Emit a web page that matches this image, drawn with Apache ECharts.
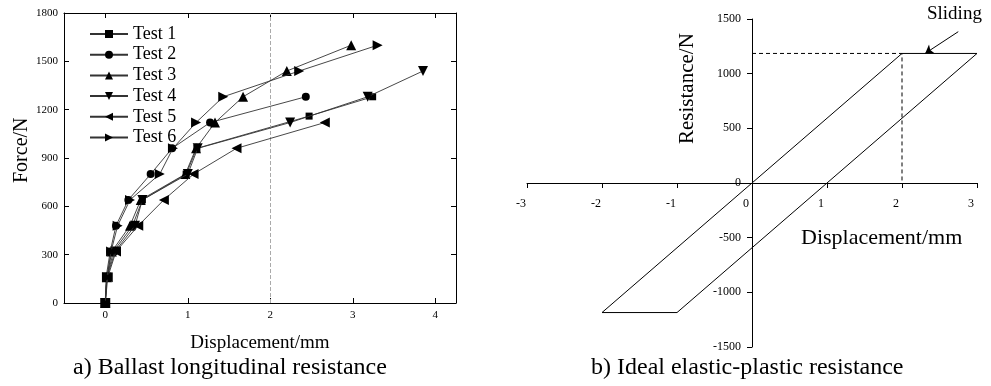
<!DOCTYPE html>
<html><head><meta charset="utf-8">
<script src="https://cdn.jsdelivr.net/npm/echarts@6/dist/echarts.min.js"></script>
<style>html,body{margin:0;padding:0;background:#fff}#c{width:991px;height:386px}</style>
</head><body><div id="c"></div>
<script>
// ---- Panel a) data ----
const testNames = ['Test 1','Test 2','Test 3','Test 4','Test 5','Test 6'];
const force1 = [0,160,320,480,640,800,960,1160,1280];
const disp1  = [0,0.02,0.10,0.33,0.45,0.98,1.11,2.47,3.24];
const force2 = [0,160,320,480,640,800,960,1120,1280];
const disp2  = [0,0.01,0.06,0.13,0.28,0.55,0.81,1.27,2.43];
const force3 = [0,160,320,480,640,800,960,1120,1280,1440,1600];
const disp3  = [0,0.02,0.08,0.30,0.43,0.97,1.10,1.33,1.67,2.20,2.98];
const force4 = [0,160,320,480,640,800,960,1120,1280,1440];
const disp4  = [0,0.02,0.12,0.36,0.45,1.00,1.12,2.24,3.18,3.85];
const force5 = [0,160,320,480,640,800,960,1120];
const disp5  = [0,0.03,0.13,0.40,0.71,1.07,1.59,2.66];
const force6 = [0,160,320,480,640,800,960,1120,1280,1440,1600];
const disp6  = [0,0.02,0.07,0.15,0.30,0.66,0.82,1.10,1.43,2.35,3.30];
const leftXTicks = [0,1,2,3,4];
const refDisp = 2;

// ---- Panel b) data ----
const loopDisp  = [-2, 2, 3, -1, -2];
const loopForce = [-1185, 1185, 1185, -1185, -1185];
const guideDisp  = [0, 2, 2];
const guideForce = [1185, 1185, 0];
const arrowFrom = [2.75, 1384];
const arrowTo   = [2.31, 1186];

const F = 'Liberation Serif';
const forces = [force1, force2, force3, force4, force5, force6];
const disps = [disp1, disp2, disp3, disp4, disp5, disp6];
const symbols = ['rect','circle','triangle',
  'path://M0,0L10,0L5,10Z','path://M10,0L10,10L0,5Z','path://M0,0L0,10L10,5Z'];
const sizes = [7, 8, 10, 10, 10, 10];
const pair = (xs, ys) => xs.map((x, i) => [x, ys[i]]);
const plain = v => String(v);

const testSeries = testNames.map((n, k) => ({
  name: n, type: 'line', xAxisIndex: 0, yAxisIndex: 0,
  data: pair(disps[k], forces[k]),
  symbol: symbols[k], symbolSize: sizes[k], showAllSymbol: true,
  lineStyle: {color: '#333', width: 0.9}, itemStyle: {color: '#000'},
  z: 3 + k,
  markLine: k === 0 ? {silent: true, symbol: 'none', label: {show: false},
    lineStyle: {color: '#aaa', type: 'dashed', width: 1}, data: [{xAxis: refDisp}]} : undefined
}));

const axisBlack = {onZero: false, lineStyle: {color: '#000', width: 1}};
const opt = {
  animation: false,
  textStyle: {fontFamily: F},
  grid: [
    {left: 64, right: 535, top: 13, bottom: 83},
    {left: 527, right: 14, top: 19, bottom: 39}
  ],
  xAxis: [
    {gridIndex: 0, type: 'value', min: -0.5, max: 4.25, position: 'bottom',
     axisLine: axisBlack, splitLine: {show: false},
     axisTick: {inside: true, length: 5, customValues: leftXTicks, lineStyle: {color: '#000'}},
     axisLabel: {customValues: leftXTicks, color: '#000', fontSize: 11, margin: 7, fontFamily: F, formatter: plain},
     name: 'Displacement/mm', nameLocation: 'middle', nameGap: 31,
     nameTextStyle: {fontSize: 19, color: '#000', fontFamily: F}},
    {gridIndex: 0, type: 'value', min: -0.5, max: 4.25, position: 'top',
     axisLine: axisBlack, splitLine: {show: false},
     axisTick: {inside: true, length: 5, customValues: leftXTicks, lineStyle: {color: '#000'}},
     axisLabel: {show: false}},
    {gridIndex: 1, type: 'value', min: -3, max: 3, interval: 1, position: 'bottom', offset: -164,
     axisLine: {onZero: false, lineStyle: {color: '#000', width: 1}}, splitLine: {show: false},
     axisTick: {length: 5, lineStyle: {color: '#000'}},
     axisLabel: {color: '#000', fontSize: 12, margin: 15, fontFamily: F, padding: [0, 12, 0, 0], formatter: plain}}
  ],
  yAxis: [
    {gridIndex: 0, type: 'value', min: 0, max: 1800, interval: 300,
     axisLine: {show: true, onZero: false, lineStyle: {color: '#000', width: 1}}, splitLine: {show: false},
     axisTick: {show: true, inside: true, length: 5, lineStyle: {color: '#000'}},
     axisLabel: {color: '#000', fontSize: 11, margin: 6, fontFamily: F, formatter: plain}},
    {gridIndex: 0, type: 'value', min: 0, max: 1800, interval: 300, position: 'right',
     axisLine: {show: true, onZero: false, lineStyle: {color: '#000', width: 1}}, splitLine: {show: false},
     axisTick: {show: true, inside: true, length: 5, lineStyle: {color: '#000'}},
     axisLabel: {show: false}},
    {gridIndex: 1, type: 'value', min: -1500, max: 1500, interval: 500, position: 'left', offset: -225,
     axisLine: {show: true, onZero: false, lineStyle: {color: '#000', width: 1}}, splitLine: {show: false},
     axisTick: {show: true, length: 5, lineStyle: {color: '#000'}},
     axisLabel: {color: '#000', fontSize: 12, margin: 11, fontFamily: F, formatter: plain}}
  ],
  legend: {
    orient: 'vertical', left: 84, top: 20, itemWidth: 38, itemHeight: 10, itemGap: 2.7,
    textStyle: {fontSize: 18, color: '#000', fontFamily: F},
    data: testNames
  },
  series: [
    ...testSeries,
    {type: 'line', xAxisIndex: 2, yAxisIndex: 2, data: pair(loopDisp, loopForce),
     symbol: 'none', lineStyle: {color: '#000', width: 1}, z: 5},
    {type: 'line', xAxisIndex: 2, yAxisIndex: 2, data: pair(guideDisp, guideForce),
     symbol: 'none', lineStyle: {color: '#000', width: 1, type: [4, 3]}, z: 4,
     markLine: {silent: true, symbol: ['none', 'arrow'], symbolSize: 8, label: {show: false},
       lineStyle: {color: '#000', width: 1, type: 'solid'},
       data: [[{coord: arrowFrom}, {coord: arrowTo}]]}}
  ],
  graphic: [
    {type: 'text', x: 12, y: 183, rotation: Math.PI / 2,
     style: {text: 'Force/N', font: '20px "Liberation Serif"', fill: '#000'}},
    {type: 'text', left: 927, top: 5, style: {text: 'Sliding', font: '19px "Liberation Serif"', fill: '#000'}},
    {type: 'text', x: 677, y: 144, rotation: Math.PI / 2,
     style: {text: 'Resistance/N', font: '21px "Liberation Serif"', fill: '#000'}},
    {type: 'text', left: 801, top: 227, style: {text: 'Displacement/mm', font: '22px "Liberation Serif"', fill: '#000'}},
    {type: 'text', left: 73, top: 356, style: {text: 'a) Ballast longitudinal resistance', font: '24px "Liberation Serif"', fill: '#000'}},
    {type: 'text', left: 591, top: 356, style: {text: 'b) Ideal elastic-plastic resistance', font: '24px "Liberation Serif"', fill: '#000'}}
  ]
};
echarts.init(document.getElementById('c')).setOption(opt);
</script></body></html>
